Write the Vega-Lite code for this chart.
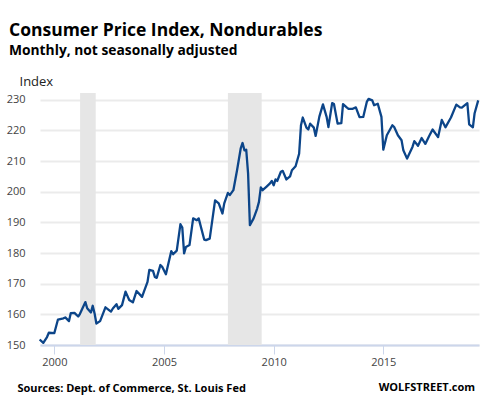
{
  "$schema": "https://vega.github.io/schema/vega-lite/v6.json",
  "width": 439,
  "height": 252,
  "autosize": {"type": "none"},
  "padding": {"left": 40, "top": 93, "right": 9, "bottom": 54},
  "background": "white",
  "config": {
    "view": {"stroke": null},
    "font": "Open Sans"
  },
  "title": {
    "text": "Consumer Price Index, Nondurables",
    "subtitle": "Monthly, not seasonally adjusted",
    "anchor": "start",
    "frame": "group",
    "dx": -31,
    "dy": 2,
    "offset": 19,
    "font": "Open Sans",
    "fontSize": 17.5,
    "fontWeight": "bold",
    "color": "#000000",
    "subtitleFont": "Open Sans",
    "subtitleFontSize": 13.8,
    "subtitleFontWeight": "bold",
    "subtitleColor": "#000000",
    "subtitlePadding": 5
  },
  "datasets": {
    "cpi": [
      {"date": "1999-05-01", "value": 151.8},
      {"date": "1999-07-01", "value": 150.7},
      {"date": "1999-09-01", "value": 152.6},
      {"date": "1999-10-01", "value": 154.0},
      {"date": "2000-01-01", "value": 153.9},
      {"date": "2000-03-01", "value": 158.3},
      {"date": "2000-06-01", "value": 158.7},
      {"date": "2000-07-01", "value": 159.0},
      {"date": "2000-09-01", "value": 157.8},
      {"date": "2000-10-01", "value": 160.4},
      {"date": "2000-12-01", "value": 160.5},
      {"date": "2001-02-01", "value": 159.3},
      {"date": "2001-03-01", "value": 160.1},
      {"date": "2001-06-01", "value": 164.0},
      {"date": "2001-07-01", "value": 162.0},
      {"date": "2001-09-01", "value": 160.6},
      {"date": "2001-10-01", "value": 162.8},
      {"date": "2001-11-01", "value": 160.3},
      {"date": "2001-12-01", "value": 157.0},
      {"date": "2002-02-01", "value": 157.8},
      {"date": "2002-05-01", "value": 162.3},
      {"date": "2002-08-01", "value": 160.9},
      {"date": "2002-09-01", "value": 161.9},
      {"date": "2002-11-01", "value": 163.3},
      {"date": "2002-12-01", "value": 161.8},
      {"date": "2003-02-01", "value": 163.0},
      {"date": "2003-04-01", "value": 167.4},
      {"date": "2003-06-01", "value": 164.7},
      {"date": "2003-08-01", "value": 163.9},
      {"date": "2003-10-01", "value": 167.6},
      {"date": "2004-01-01", "value": 165.7},
      {"date": "2004-02-01", "value": 167.4},
      {"date": "2004-04-01", "value": 170.6},
      {"date": "2004-05-01", "value": 174.5},
      {"date": "2004-07-01", "value": 174.2},
      {"date": "2004-08-01", "value": 172.2},
      {"date": "2004-09-01", "value": 171.9},
      {"date": "2004-11-01", "value": 176.1},
      {"date": "2004-12-01", "value": 175.5},
      {"date": "2005-02-01", "value": 173.1},
      {"date": "2005-05-01", "value": 180.6},
      {"date": "2005-06-01", "value": 179.6},
      {"date": "2005-08-01", "value": 180.8},
      {"date": "2005-10-01", "value": 189.4},
      {"date": "2005-11-01", "value": 188.3},
      {"date": "2005-12-01", "value": 179.9},
      {"date": "2006-01-01", "value": 182.0},
      {"date": "2006-03-01", "value": 182.6},
      {"date": "2006-05-01", "value": 191.3},
      {"date": "2006-07-01", "value": 190.7},
      {"date": "2006-08-01", "value": 191.3},
      {"date": "2006-11-01", "value": 184.4},
      {"date": "2006-12-01", "value": 184.2},
      {"date": "2007-02-01", "value": 184.7},
      {"date": "2007-05-01", "value": 197.2},
      {"date": "2007-07-01", "value": 196.2},
      {"date": "2007-09-01", "value": 192.9},
      {"date": "2007-10-01", "value": 196.2},
      {"date": "2007-12-01", "value": 199.6},
      {"date": "2008-01-01", "value": 198.9},
      {"date": "2008-03-01", "value": 200.5},
      {"date": "2008-05-01", "value": 207.0},
      {"date": "2008-07-01", "value": 214.1},
      {"date": "2008-08-01", "value": 215.9},
      {"date": "2008-09-01", "value": 213.5},
      {"date": "2008-10-01", "value": 213.7},
      {"date": "2008-11-01", "value": 205.9},
      {"date": "2008-12-01", "value": 189.1},
      {"date": "2009-02-01", "value": 191.3},
      {"date": "2009-04-01", "value": 194.5},
      {"date": "2009-05-01", "value": 196.7},
      {"date": "2009-06-01", "value": 201.4},
      {"date": "2009-07-01", "value": 200.5},
      {"date": "2009-09-01", "value": 201.6},
      {"date": "2009-11-01", "value": 202.7},
      {"date": "2009-12-01", "value": 203.5},
      {"date": "2010-01-01", "value": 202.1},
      {"date": "2010-02-01", "value": 204.0},
      {"date": "2010-03-01", "value": 203.5},
      {"date": "2010-05-01", "value": 206.5},
      {"date": "2010-06-01", "value": 206.8},
      {"date": "2010-08-01", "value": 204.0},
      {"date": "2010-10-01", "value": 205.0},
      {"date": "2010-11-01", "value": 207.0},
      {"date": "2011-01-01", "value": 208.3},
      {"date": "2011-03-01", "value": 212.4},
      {"date": "2011-04-01", "value": 221.7},
      {"date": "2011-05-01", "value": 224.2},
      {"date": "2011-07-01", "value": 220.9},
      {"date": "2011-08-01", "value": 220.3},
      {"date": "2011-09-01", "value": 222.2},
      {"date": "2011-11-01", "value": 220.9},
      {"date": "2011-12-01", "value": 218.2},
      {"date": "2012-02-01", "value": 224.5},
      {"date": "2012-04-01", "value": 228.5},
      {"date": "2012-06-01", "value": 224.4},
      {"date": "2012-07-01", "value": 221.1},
      {"date": "2012-09-01", "value": 228.9},
      {"date": "2012-10-01", "value": 228.6},
      {"date": "2012-12-01", "value": 222.2},
      {"date": "2013-02-01", "value": 222.4},
      {"date": "2013-03-01", "value": 228.6},
      {"date": "2013-05-01", "value": 227.5},
      {"date": "2013-06-01", "value": 227.0},
      {"date": "2013-08-01", "value": 227.0},
      {"date": "2013-10-01", "value": 227.5},
      {"date": "2013-12-01", "value": 224.3},
      {"date": "2014-02-01", "value": 224.4},
      {"date": "2014-04-01", "value": 229.3},
      {"date": "2014-05-01", "value": 230.3},
      {"date": "2014-07-01", "value": 229.8},
      {"date": "2014-08-01", "value": 228.2},
      {"date": "2014-10-01", "value": 228.7},
      {"date": "2014-12-01", "value": 224.4},
      {"date": "2015-01-01", "value": 213.7},
      {"date": "2015-03-01", "value": 218.4},
      {"date": "2015-06-01", "value": 221.7},
      {"date": "2015-07-01", "value": 221.1},
      {"date": "2015-09-01", "value": 218.4},
      {"date": "2015-11-01", "value": 216.8},
      {"date": "2015-12-01", "value": 213.5},
      {"date": "2016-02-01", "value": 210.8},
      {"date": "2016-05-01", "value": 214.6},
      {"date": "2016-06-01", "value": 216.5},
      {"date": "2016-08-01", "value": 215.0},
      {"date": "2016-10-01", "value": 217.5},
      {"date": "2016-12-01", "value": 215.6},
      {"date": "2017-02-01", "value": 218.1},
      {"date": "2017-04-01", "value": 220.3},
      {"date": "2017-07-01", "value": 217.8},
      {"date": "2017-09-01", "value": 223.4},
      {"date": "2017-11-01", "value": 221.0},
      {"date": "2018-02-01", "value": 224.2},
      {"date": "2018-05-01", "value": 228.4},
      {"date": "2018-07-01", "value": 227.5},
      {"date": "2018-08-01", "value": 227.4},
      {"date": "2018-11-01", "value": 228.9},
      {"date": "2018-12-01", "value": 222.0},
      {"date": "2019-02-01", "value": 221.0},
      {"date": "2019-03-01", "value": 225.5},
      {"date": "2019-05-01", "value": 229.8}
    ],
    "recessions": [
      {"start": "2001-03-05", "end": "2001-11-20"},
      {"start": "2007-12-01", "end": "2009-06-15"}
    ],
    "credit": [
      {"date": "2019-03-10", "value": 135.0, "label": "WOLFSTREET.com"}
    ]
  },
  "layer": [
    {
      "data": {"name": "recessions"},
      "mark": {"type": "rect", "color": "#e6e6e6"},
      "encoding": {
        "x": {"field": "start", "type": "temporal"},
        "x2": {"field": "end"}
      }
    },
    {
      "data": {"name": "cpi"},
      "mark": {"type": "line", "color": "#0c4589", "strokeWidth": 2.3, "strokeJoin": "round"},
      "encoding": {
        "x": {
          "field": "date",
          "type": "temporal",
          "scale": {"domain": ["1999-05-07", "2019-05-14"], "nice": false},
          "axis": {
            "values": [{"year": 2000}, {"year": 2005}, {"year": 2010}, {"year": 2015}],
            "format": "%Y",
            "grid": false,
            "domainColor": "#ccd6eb",
            "domainWidth": 2,
            "tickColor": "#ccd6eb",
            "tickSize": 9,
            "tickWidth": 1,
            "labelFont": "Open Sans",
            "labelFontSize": 11,
            "labelColor": "#444444",
            "labelPadding": 2,
            "title": "Sources: Dept. of Commerce, St. Louis Fed",
            "titleFont": "Open Sans",
            "titleFontSize": 11,
            "titleFontWeight": "bold",
            "titleColor": "#000000",
            "titleAnchor": "start",
            "titleAlign": "left",
            "titleBaseline": "alphabetic",
            "titleX": -23,
            "titleY": 46
          }
        },
        "y": {
          "field": "value",
          "type": "quantitative",
          "scale": {"domain": [150, 232.2], "nice": false, "zero": false},
          "axis": {
            "values": [150, 160, 170, 180, 190, 200, 210, 220, 230],
            "tickCount": 9,
            "labelOverlap": false,
            "labelSeparation": 0,
            "labelBound": false,
            "domain": false,
            "ticks": false,
            "grid": true,
            "gridColor": "#ebebeb",
            "gridWidth": 2,
            "labelFont": "Open Sans",
            "labelFontSize": 11,
            "labelColor": "#444444",
            "labelPadding": 15,
            "title": "Index",
            "titleAngle": 0,
            "titleFont": "Open Sans",
            "titleFontSize": 13,
            "titleFontWeight": "normal",
            "titleColor": "#222222",
            "titleAlign": "left",
            "titleBaseline": "alphabetic",
            "titleX": -21,
            "titleY": -8
          }
        }
      }
    },
    {
      "data": {"name": "credit"},
      "mark": {"type": "text", "align": "right", "baseline": "alphabetic", "font": "Open Sans", "fontSize": 11, "fontWeight": "bold", "color": "#000000"},
      "encoding": {
        "x": {"field": "date", "type": "temporal"},
        "y": {"field": "value", "type": "quantitative"},
        "text": {"field": "label"}
      }
    }
  ]
}
